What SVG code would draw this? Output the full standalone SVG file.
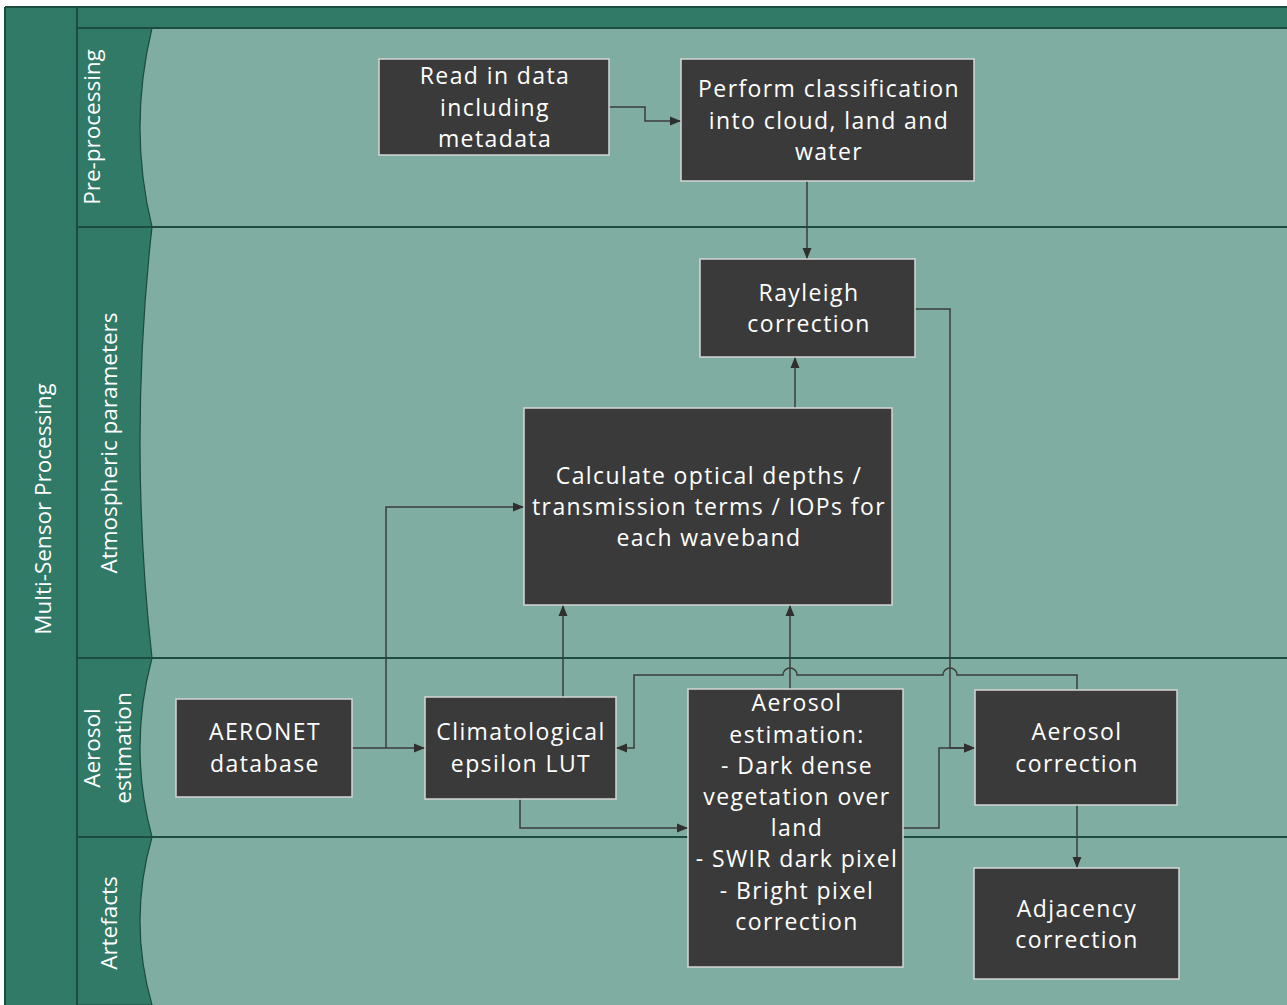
<svg xmlns="http://www.w3.org/2000/svg" width="1287" height="1005" viewBox="0 0 1287 1005">
<defs>
<style>
.hdr{fill:#307a67;}
.body{fill:#80ada1;}
.sep{stroke:#1c4c3f;stroke-width:2;fill:none;}
.curve{fill:#307a67;stroke:#1c4c3f;stroke-width:1.2;}
.lbl{font-family:"Open Sans","Noto Sans",sans-serif;font-size:22.5px;fill:#ffffff;text-anchor:middle;}
.box rect{fill:#3a3a3a;stroke:#d6d6d6;stroke-width:1.5;}
.box text{font-family:"Open Sans","Noto Sans",sans-serif;font-size:23px;fill:#ffffff;text-anchor:middle;letter-spacing:1.4px;}
.conn path{fill:none;stroke:#3a3d3c;stroke-width:1.5;}
</style>
<marker id="arr" markerUnits="userSpaceOnUse" markerWidth="12" markerHeight="10" refX="11" refY="5" orient="auto">
<path d="M0,0.5 L11,5 L0,9.5 z" fill="#2f2f2f"/>
</marker>
</defs>

<g id="background">
<rect x="0" y="0" width="1287" height="1005" fill="#ffffff"/>
<rect x="5" y="7" width="1282" height="998" class="hdr"/>
<rect x="77" y="28" width="1210" height="977" class="body"/>
</g>

<g id="lane-headers">
<path class="curve" d="M77,28 H152 Q128,127.5 152,227 H77 Z"/>
<path class="curve" d="M77,227 H152 Q128,442.5 152,658 H77 Z"/>
<path class="curve" d="M77,658 H152 Q128,747.5 152,837 H77 Z"/>
<path class="curve" d="M77,837 H152 Q128,921 152,1005 H77 Z"/>
<line class="sep" x1="5" y1="7" x2="1287" y2="7"/>
<line class="sep" x1="5" y1="7" x2="5" y2="1005"/>
<line class="sep" x1="77" y1="7" x2="77" y2="1005"/>
<line class="sep" x1="77" y1="28" x2="1287" y2="28"/>
<line class="sep" x1="77" y1="227" x2="1287" y2="227"/>
<line class="sep" x1="77" y1="658" x2="1287" y2="658"/>
<line class="sep" x1="77" y1="837" x2="1287" y2="837"/>
<text class="lbl" transform="translate(51,509) rotate(-90)">Multi-Sensor Processing</text>
<text class="lbl" transform="translate(100,127) rotate(-90)">Pre-processing</text>
<text class="lbl" transform="translate(117,443) rotate(-90)">Atmospheric parameters</text>
<text class="lbl" transform="translate(100,748) rotate(-90)">Aerosol</text>
<text class="lbl" transform="translate(131,748) rotate(-90)">estimation</text>
<text class="lbl" transform="translate(117,923) rotate(-90)">Artefacts</text>
</g>

<g id="connectors" class="conn">
<path d="M609,107 H645 V121 H681" marker-end="url(#arr)"/>
<path d="M807,181 V259" marker-end="url(#arr)"/>
<path d="M795,408 V357" marker-end="url(#arr)"/>
<path d="M915,309 H950 V748 H975" marker-end="url(#arr)"/>
<path d="M903,828 H939 V748 H975" marker-end="url(#arr)"/>
<path d="M352,748 H425" marker-end="url(#arr)"/>
<path d="M386,748 V507 H524" marker-end="url(#arr)"/>
<path d="M563,697 V605" marker-end="url(#arr)"/>
<path d="M520,799 V828 H688" marker-end="url(#arr)"/>
<path d="M790,689 V605" marker-end="url(#arr)"/>
<path d="M1077,690 V675 H957 a7,7 0 0 0 -14,0 H797 a7,7 0 0 0 -14,0 H634 V748 H616" marker-end="url(#arr)"/>
<path d="M1077,805 V868" marker-end="url(#arr)"/>
</g>

<g id="node-read" class="box">
<rect x="379" y="59" width="230" height="96"/>
<text x="495" y="84">Read in data</text>
<text x="495" y="116">including</text>
<text x="495" y="147">metadata</text>
</g>
<g id="node-classify" class="box">
<rect x="681" y="59" width="293" height="122"/>
<text x="829" y="97">Perform classification</text>
<text x="829" y="129">into cloud, land and</text>
<text x="829" y="160">water</text>
</g>
<g id="node-rayleigh" class="box">
<rect x="700" y="259" width="215" height="98"/>
<text x="809" y="301">Rayleigh</text>
<text x="809" y="332">correction</text>
</g>
<g id="node-calc" class="box">
<rect x="524" y="408" width="368" height="197"/>
<text x="709" y="484">Calculate optical depths /</text>
<text x="709" y="515">transmission terms / IOPs for</text>
<text x="709" y="546">each waveband</text>
</g>
<g id="node-aeronet" class="box">
<rect x="176" y="699" width="176" height="98"/>
<text x="265" y="740">AERONET</text>
<text x="265" y="772">database</text>
</g>
<g id="node-climatological" class="box">
<rect x="425" y="697" width="191" height="102"/>
<text x="521" y="740">Climatological</text>
<text x="521" y="772">epsilon LUT</text>
</g>
<g id="node-aerosol-estimation" class="box">
<rect x="688" y="689" width="215" height="278"/>
<text x="797" y="711">Aerosol</text>
<text x="797" y="743">estimation:</text>
<text x="797" y="774">- Dark dense</text>
<text x="797" y="805">vegetation over</text>
<text x="797" y="836">land</text>
<text x="797" y="867">- SWIR dark pixel</text>
<text x="797" y="899">- Bright pixel</text>
<text x="797" y="930">correction</text>
</g>
<g id="node-aerosol-correction" class="box">
<rect x="975" y="690" width="202" height="115"/>
<text x="1077" y="740">Aerosol</text>
<text x="1077" y="772">correction</text>
</g>
<g id="node-adjacency" class="box">
<rect x="974" y="868" width="205" height="111"/>
<text x="1077" y="917">Adjacency</text>
<text x="1077" y="948">correction</text>
</g>
</svg>
